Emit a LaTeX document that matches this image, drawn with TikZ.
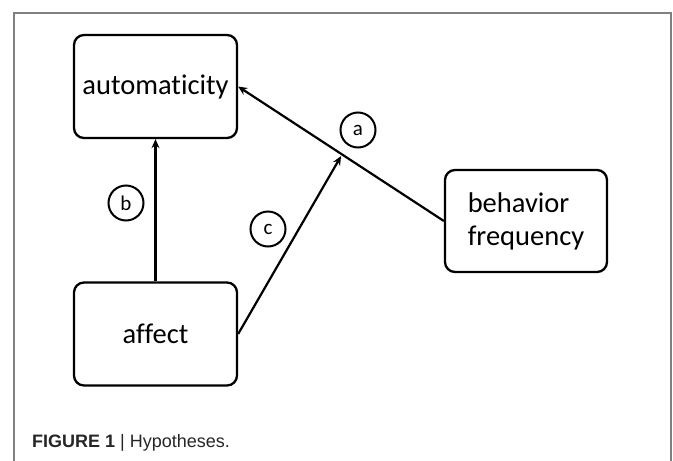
\documentclass[tikz,border=0pt]{standalone}
\usepackage{fontspec}
\setmainfont{Carlito}[Ligatures={NoCommon}]
\newfontfamily\capfont{Liberation Sans}
\usetikzlibrary{arrows.meta,calc}
\begin{document}
\begin{tikzpicture}[x=1pt,y=-1pt,
  box/.style={draw,line width=2.3pt,rounded corners=10pt,minimum width=163pt,minimum height=103pt,inner sep=0pt,font=\fontsize{28.5}{33}\selectfont},
  lbl/.style={draw,circle,line width=2pt,minimum size=35pt,inner sep=0pt,font=\fontsize{21}{21}\selectfont},
  conn/.style={line width=2.2pt,-{Stealth[length=9pt,width=8pt]}},
  frame/.style={draw=black!50,line width=1.6pt}]
\useasboundingbox (0,0) rectangle (673,461);
\path[frame] (14,461) -- (14,13) -- (671,13) -- (671,461);
\node[box] (auto) at (155.5,86.5) {automaticity};
\node[box] (affect) at (155.5,334) {affect};
\node[box,minimum width=162pt,minimum height=102pt,align=left] (bf) at (526,221) {behavior\\frequency};
\coordinate (mid) at ($(bf.west)!0.495!(auto.east)$);
\draw[conn] (bf.west) -- (auto.east);
\draw[conn] (affect.north) -- (auto.south);
\draw[conn,shorten >=2pt] (affect.east) -- (mid);
\node[lbl] (la) at (358,130) {a};
\node[lbl] (lb) at (126,203) {b};
\node[lbl] (lc) at (268,229) {c};
\node[anchor=base west,inner sep=0pt,text=black!85,font=\capfont\fontsize{18}{18}\selectfont] (cap) at (32,447) {\textbf{FIGURE 1} | Hypotheses.};
\end{tikzpicture}
\end{document}
